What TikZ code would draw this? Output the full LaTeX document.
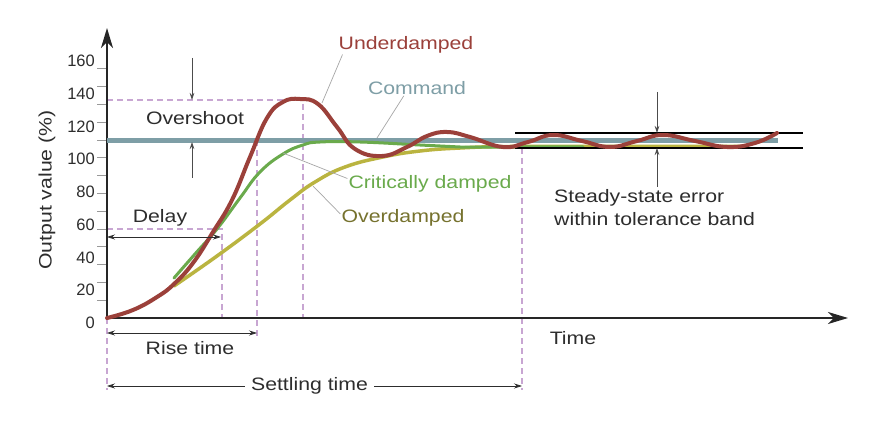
\documentclass[tikz,border=0pt]{standalone}
\usepackage{fontspec}
\setmainfont{Liberation Sans}[FakeStretch=1.18]
\newfontfamily\tickfont{Liberation Sans}
\usetikzlibrary{arrows.meta}

\definecolor{underred}{RGB}{155,64,58}
\definecolor{cmdteal}{RGB}{126,158,166}
\definecolor{critgreen}{RGB}{106,170,76}
\definecolor{overolive}{RGB}{186,180,64}
\definecolor{overtext}{RGB}{118,114,46}
\definecolor{dashpurple}{RGB}{200,166,210}
\definecolor{textgray}{RGB}{45,45,45}

\tikzset{
	lbl/.style={text=textgray, inner sep=1pt},
	guide/.style={dashpurple, line width=1.4pt, dash pattern=on 6pt off 4pt},
	axis/.style={-{Stealth[length=20pt,width=12pt,inset=6pt]}, line width=1.8pt, black!85},
	span/.style={{Stealth[length=8pt,width=5pt]}-{Stealth[length=8pt,width=5pt]}, line width=0.7pt, textgray},
	pointer/.style={-{Stealth[length=7pt,width=4.5pt]}, line width=0.7pt, textgray!85},
	leader/.style={gray!70, line width=0.7pt},
	band/.style={black, line width=1.1pt},
	response/.style={line width=3.5pt, line cap=round, smooth, tension=0.75}
}

\begin{document}
\begin{tikzpicture}[x=1pt, y=-1pt, font=\fontsize{18}{23}\selectfont]
	\path[use as bounding box, fill=white] (0,0) rectangle (881,422);

	\coordinate (O) at (107, 318);
	\coordinate (ytop) at (107, 28);
	\coordinate (xend) at (848, 318);

	\draw[guide] (107, 100) -- (303, 100) -- (303, 318);
	\draw[guide] (107, 229) -- (222, 229) -- (222, 318);
	\draw[guide] (257, 140) -- (257, 338);
	\draw[guide] (107, 318) -- (107, 390);
	\draw[guide] (522, 148) -- (522, 390);

	\foreach \i in {1,...,14}
		\draw[gray!80, line width=0.8pt] (97, 318-17.8*\i) -- (107, 318-17.8*\i);
	\foreach \v [count=\i from 0] in {0,20,...,160}
		\node[lbl, anchor=east, font=\tickfont\fontsize{16.5}{18}\selectfont] (tick\v) at (96, 323-32.75*\i) {\v};

	\draw[axis] (O) -- (ytop);
	\draw[axis] (O) -- (xend);

	\draw[cmdteal, line width=5.5pt] (107, 140.5) -- (778, 140.5);
	\draw[response, overolive] plot coordinates {(174,286) (217,256) (260,224) (290,200) (315,182) (345,167) (383,157) (420,151) (460,148) (510,146.5) (600,146.5) (747,146.5)};
	\draw[response, critgreen, line width=3pt] plot coordinates {(174,278) (195,254) (217,229) (240,198) (260,172) (283,154) (303,145) (320,142) (360,142) (420,145) (460,147) (520,147) (583,147)};
	\draw[band] (515, 133) -- (803, 133);
	\draw[band] (515, 148) -- (803, 148);
	\draw[response, underred, line width=4pt] plot coordinates {(107,318) (133,310) (157,297) (174,284) (193,263) (213,232) (232,200) (250,157) (267,118) (283,102) (300,99) (318,104) (337,127) (355,149) (382,156) (407,147) (427,136) (447,132) (470,137) (503,147) (528,142) (553,135) (582,141) (610,147) (637,141) (663,135) (695,141) (727,147) (755,143) (777,133)};

	\node[lbl, text=underred] (under) at (406, 45) {Underdamped};
	\node[lbl, text=cmdteal] (cmd) at (417, 88) {Command};
	\node[lbl, text=critgreen] (crit) at (430, 183.5) {Critically damped};
	\node[lbl, text=overtext] (over) at (403, 218) {Overdamped};
	\node[lbl] (overshoot) at (195, 118) {Overshoot};
	\node[lbl] (delay) at (160, 218) {Delay};
	\node[lbl] (rise) at (190, 348) {Rise time};
	\node[lbl] (time) at (573, 338) {Time};
	\node[lbl, rotate=90] (ylabel) at (47, 190) {Output value (\%)};
	\node[lbl, anchor=west, align=left] (steady) at (553, 208) {Steady-state error\\within tolerance band};

	\coordinate (underpt) at (322, 103);
	\coordinate (cmdpt) at (377, 138);
	\coordinate (critpt) at (283, 153);
	\coordinate (overpt) at (313, 186);
	\path[leader] ([xshift=5pt]under.south west) edge (underpt);
	\path[leader] ([xshift=37pt]cmd.south west) edge (cmdpt);
	\path[leader] ([yshift=5pt]crit.west) edge (critpt);
	\path[leader] ([yshift=4pt]over.west) edge (overpt);

	\coordinate (os1) at (192, 58);
	\coordinate (os2) at (192, 100);
	\coordinate (os3) at (192, 178);
	\coordinate (os4) at (192, 142);
	\draw[pointer] (os1) -- (os2);
	\draw[pointer] (os3) -- (os4);

	\coordinate (tb1) at (657, 92);
	\coordinate (tb2) at (657, 133);
	\coordinate (tb3) at (657, 187);
	\coordinate (tb4) at (657, 148);
	\draw[pointer] (tb1) -- (tb2);
	\draw[pointer] (tb3) -- (tb4);

	\coordinate (d0) at (107, 237);
	\coordinate (d1) at (221, 237);
	\coordinate (r0) at (107, 333);
	\coordinate (r1) at (257, 333);
	\coordinate (s0) at (107, 386);
	\coordinate (s1) at (522, 386);
	\draw[span] (d0) -- (d1);
	\draw[span] (r0) -- (r1);
	\draw[span] (s0) -- node[lbl, fill=white, inner xsep=6pt, pos=0.488] (settle) {Settling time} (s1);
\end{tikzpicture}
\end{document}
